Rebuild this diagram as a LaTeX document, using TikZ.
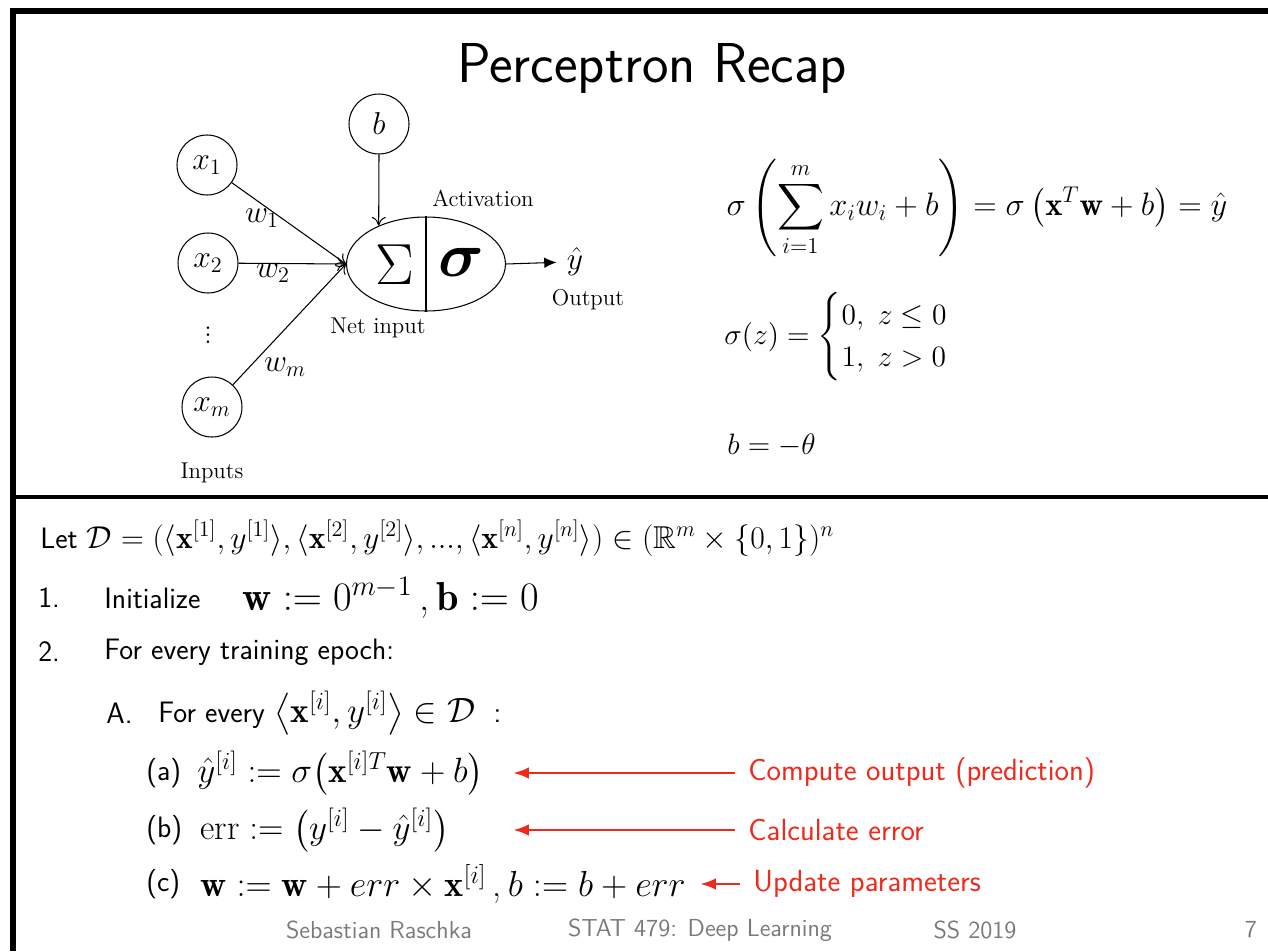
\RequirePackage{fix-cm}
\documentclass[tikz,border=0pt]{standalone}
\usepackage{amsmath,amssymb}
\usepackage{fontspec}
\usetikzlibrary{positioning,arrows.meta,shapes.geometric}
\definecolor{slidered}{HTML}{EE2A1C}
\definecolor{footgray}{HTML}{7A7A7A}

\begin{document}
\begin{tikzpicture}[
    x=0.02cm, y=-0.02cm,
    every node/.style={inner sep=0pt},
    unit/.style={circle, draw, line width=0.6pt, minimum size=1.2cm, font=\fontsize{18}{20}\selectfont},
    wlab/.style={font=\fontsize{18}{20}\selectfont},
    caption/.style={font=\fontsize{13}{15}\selectfont},
    inarrow/.style={line width=0.6pt, -{To[length=5pt,width=8pt]}},
    body/.style={anchor=west, font=\sffamily\fontsize{16.8}{20}\selectfont},
    mathline/.style={anchor=west, font=\fontsize{20}{24}\selectfont},
    note/.style={anchor=west, text=slidered, font=\sffamily\fontsize{17.4}{20}\selectfont},
    redarrow/.style={draw=slidered, line width=1.5pt, -{Latex[length=9pt,width=6.5pt]}},
    foot/.style={text=footgray, font=\sffamily\fontsize{14}{16}\selectfont}
]
    \useasboundingbox (0,0) rectangle (1268,951);

    % frame of the slide
    \draw[line width=3pt] (1268,11) -- (13,11) -- (13,951);
    \draw[line width=2.2pt] (13,497) -- (1268,497);

    % title
    \node[font=\sffamily\fontsize{32}{36}\selectfont] (title) at (652,68) {Perceptron Recap};

    % --- perceptron unit ---
    \node[unit] (b) at (379,124) {$b$};
    \node[unit] (x1) at (207,165) {$x_1$};
    \node[unit] (x2) at (208,263) {$x_2$};
    \node[unit] (xm) at (212,407) {$x_m$};
    \node[font=\fontsize{18}{20}\selectfont] (dots) at (208,330) {$\vdots$};

    \node[draw, ellipse, line width=0.6pt, minimum width=3.18cm, minimum height=1.88cm] (neuron) at (426,264) {};
    \draw[line width=0.6pt] (neuron.north) -- (neuron.south);
    \node[font=\fontsize{33}{36}\selectfont] (sum) at (395,265) {$\Sigma$};
    \node[font=\fontsize{36}{40}\selectfont] (act) at (461,262) {$\boldsymbol{\sigma}$};
    \node[wlab] (yhat) at (575,262) {$\hat{y}$};

    \draw[inarrow] (x1) -- (neuron.west);
    \draw[inarrow] (x2) -- (neuron.west);
    \draw[inarrow] (xm) -- (neuron.west);
    \draw[inarrow] (b.south) -- (neuron.141);
    \draw[line width=0.6pt, -{Latex[length=7pt,width=6pt]}, shorten >=0.2cm] (neuron.east) -- (yhat.west);

    \node[wlab] (w1) at (262,218) {$w_1$};
    \node[wlab] (w2) at (273,273) {$w_2$};
    \node[wlab] (wm) at (285,367) {$w_m$};
    \node[caption] (actlab) at (483,198) {Activation};
    \node[caption] (netlab) at (378,328) {Net input};
    \node[caption] (outlab) at (588,300) {Output};
    \node[caption] (inlab) at (212,473) {Inputs};

    % --- equations on the right ---
    \node[font=\fontsize{18.5}{22}\selectfont] (eqsum) at (977,208)
        {$\displaystyle \sigma\left(\sum_{i=1}^{m} x_i w_i + b\right) = \sigma\left(\mathbf{x}^T\mathbf{w} + b\right) = \hat{y}$};
    \node[anchor=west, font=\fontsize{16.8}{20}\selectfont] (eqstep) at (724,337)
        {$\sigma(z) = \begin{cases} 0,\ z \le 0\\ 1,\ z > 0 \end{cases}$};
    \node[anchor=west, font=\fontsize{16.8}{20}\selectfont] (eqbias) at (727,445) {$b = -\theta$};

    % --- algorithm ---
    \node[body] (let) at (40,538)
        {Let\ {\fontsize{18}{22}\selectfont$\mathcal{D} = (\langle \mathbf{x}^{[1]}, y^{[1]} \rangle, \langle \mathbf{x}^{[2]}, y^{[2]} \rangle, ..., \langle \mathbf{x}^{[n]}, y^{[n]} \rangle) \in (\mathbb{R}^m \times \{0,1\})^n$}};

    \node[body] (n1) at (38,598) {1.};
    \node[body] (init) at (104,598) {Initialize};
    \node[anchor=west, font=\fontsize{23}{26}\selectfont] (initm) at (242,598) {$\mathbf{w} := 0^{m-1}$\,,\,$\mathbf{b} := 0$};

    \node[body] (n2) at (38,652) {2.};
    \node[body] (epoch) at (104,652) {For every training epoch:};

    \node[body] (nA) at (106,713) {A.};
    \node[body] (every) at (158,713) {For every {\fontsize{20}{24}\selectfont$\big\langle \mathbf{x}^{[i]}, y^{[i]} \big\rangle \in \mathcal{D}$}\ \ :};

    \node[body] (la) at (146,773) {(a)};
    \node[mathline] (ma) at (197,773) {$\hat{y}^{[i]} := \sigma\bigl(\mathbf{x}^{[i]T}\mathbf{w} + b\bigr)$};
    \node[body] (lb) at (146,830) {(b)};
    \node[mathline] (mb) at (200,830) {$\mathrm{err} := \bigl(y^{[i]} - \hat{y}^{[i]}\bigr)$};
    \node[body] (lc) at (146,884) {(c)};
    \node[mathline, font=\fontsize{20.6}{24}\selectfont] (mc) at (200,884) {$\mathbf{w} := \mathbf{w} + err \times \mathbf{x}^{[i]}$\,,\,$b := b + err$};

    \node[note] (nota) at (748,773) {Compute output (prediction)};
    \node[note] (notb) at (748,830) {Calculate error};
    \node[note] (notc) at (753,884) {Update parameters};
    \coordinate (tipa) at (513,773);
    \coordinate (tipb) at (513,830);
    \coordinate (tipc) at (700,884);
    \draw[redarrow, shorten <=0.26cm] (nota.west) -- (tipa);
    \draw[redarrow, shorten <=0.26cm] (notb.west) -- (tipb);
    \draw[redarrow, shorten <=0.26cm] (notc.west) -- (tipc);

    % footer
    \node[foot] (author) at (379,930) {Sebastian Raschka};
    \node[foot] (course) at (700,930) {STAT 479: Deep Learning};
    \node[foot] (term) at (975,930) {SS 2019};
    \node[foot] (page) at (1251,930) {7};
\end{tikzpicture}
\end{document}
